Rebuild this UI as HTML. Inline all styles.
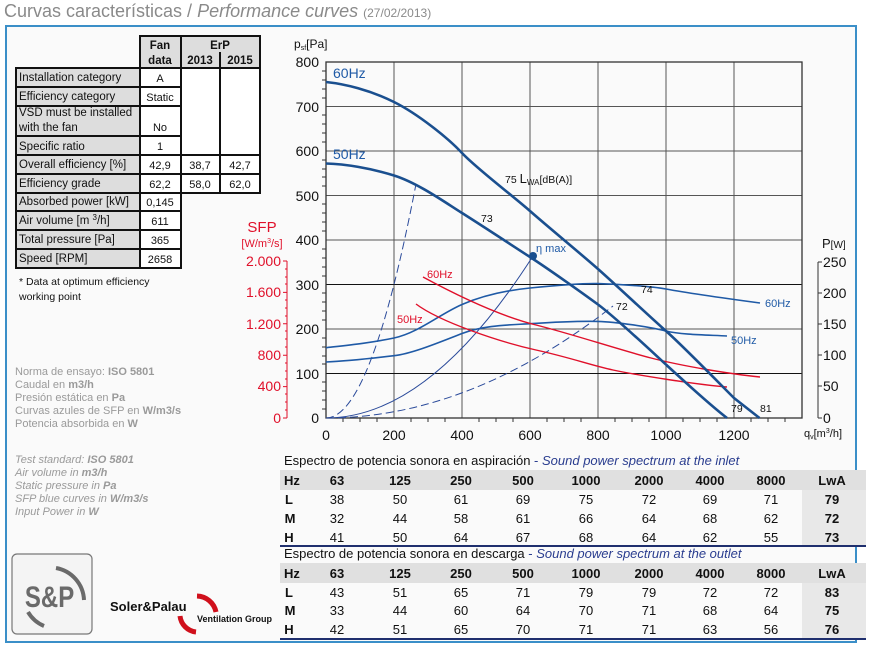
<!DOCTYPE html>
<html><head><meta charset="utf-8"><style>
html,body{margin:0;padding:0;background:#fff;}
svg{display:block;font-family:"Liberation Sans",Arial,sans-serif;}
</style></head><body>
<svg width="876" height="654" viewBox="0 0 876 654" xmlns="http://www.w3.org/2000/svg">
<rect width="876" height="654" fill="#fff"/>
<text x="4" y="17" font-size="18" fill="#8a8a8a">Curvas características / <tspan font-style="italic">Performance curves</tspan> <tspan font-size="12">(27/02/2013)</tspan></text>
<rect x="6" y="26" width="850" height="616" fill="#fafafa" stroke="#3b8fc8" stroke-width="2"/>

<!-- Left table -->
<g stroke="#111" stroke-width="2" font-size="11" fill="#111">
<rect x="140" y="36" width="120" height="32" fill="#ddd"/>
<line x1="181" y1="36" x2="181" y2="193"/><line x1="220" y1="52" x2="220" y2="193"/>
<rect x="16" y="68" width="124" height="200" fill="#ddd"/>
<rect x="140" y="68" width="41" height="200" fill="#fff"/>
<rect x="181" y="68" width="79" height="125" fill="#fff"/>
<line x1="220" y1="68" x2="220" y2="193"/>
<g stroke-width="2">
<line x1="16" y1="87" x2="181" y2="87"/><line x1="16" y1="106" x2="181" y2="106"/>
<line x1="16" y1="136" x2="181" y2="136"/><line x1="16" y1="155" x2="260" y2="155"/>
<line x1="16" y1="174" x2="260" y2="174"/><line x1="16" y1="193" x2="260" y2="193"/><line x1="16" y1="211" x2="181" y2="211"/>
<line x1="16" y1="230" x2="181" y2="230"/><line x1="16" y1="249" x2="181" y2="249"/>
</g>
</g>
<g font-size="11.5" fill="#111">
<text x="160" y="49" text-anchor="middle" font-weight="bold">Fan</text>
<text x="160" y="64" text-anchor="middle" font-weight="bold">data</text>
<text x="220" y="49" text-anchor="middle" font-weight="bold">ErP</text>
<text x="200" y="64" text-anchor="middle" font-weight="bold">2013</text>
<text x="240" y="64" text-anchor="middle" font-weight="bold">2015</text>
<text x="19" y="81">Installation category</text>
<text x="19" y="100">Efficiency category</text>
<text x="19" y="116">VSD must be installed</text>
<text x="19" y="131">with the fan</text>
<text x="19" y="150">Specific ratio</text>
<text x="19" y="168">Overall efficiency [%]</text>
<text x="19" y="187">Efficiency grade</text>
<text x="19" y="205">Absorbed power [kW]</text>
<text x="19" y="224">Air volume [m <tspan font-size="8" dy="-4">3</tspan><tspan dy="4">/h]</tspan></text>
<text x="19" y="243">Total pressure [Pa]</text>
<text x="19" y="262">Speed [RPM]</text>
<g text-anchor="middle" font-size="11">
<text x="160" y="82">A</text><text x="160" y="101">Static</text><text x="160" y="131">No</text>
<text x="160" y="150">1</text><text x="160" y="169">42,9</text><text x="160" y="188">62,2</text>
<text x="160" y="206">0,145</text><text x="160" y="225">611</text><text x="160" y="244">365</text><text x="160" y="263">2658</text>
<text x="200" y="169">38,7</text><text x="240" y="169">42,7</text>
<text x="200" y="188">58,0</text><text x="240" y="188">62,0</text>
</g>
<text x="19" y="285" font-size="10.5">* Data at optimum efficiency</text>
<text x="19" y="300" font-size="10.5">working point</text>
</g>

<!-- notes -->
<g font-size="11" fill="#9a9a9a">
<text x="15" y="375">Norma de ensayo: <tspan font-weight="bold">ISO 5801</tspan></text>
<text x="15" y="388">Caudal en <tspan font-weight="bold">m3/h</tspan></text>
<text x="15" y="401">Presión estática en <tspan font-weight="bold">Pa</tspan></text>
<text x="15" y="414">Curvas azules de SFP en <tspan font-weight="bold">W/m3/s</tspan></text>
<text x="15" y="427">Potencia absorbida en <tspan font-weight="bold">W</tspan></text>
<g font-style="italic">
<text x="15" y="463">Test standard: <tspan font-weight="bold">ISO 5801</tspan></text>
<text x="15" y="476">Air volume in <tspan font-weight="bold">m3/h</tspan></text>
<text x="15" y="489">Static pressure in <tspan font-weight="bold">Pa</tspan></text>
<text x="15" y="502">SFP blue curves in <tspan font-weight="bold">W/m3/s</tspan></text>
<text x="15" y="515">Input Power in <tspan font-weight="bold">W</tspan></text>
</g></g>

<!-- logo -->
<rect x="12" y="554" width="80" height="80" rx="5" fill="#f4f4f4" stroke="#777" stroke-width="1.2"/>
<text x="50" y="607" font-size="30" font-weight="bold" fill="#6a6a6a" text-anchor="middle" transform="scale(0.8,1) translate(12,0)">S&amp;P</text>
<path d="M56 568 A34 34 0 0 1 84 600" fill="none" stroke="#6a6a6a" stroke-width="4"/>
<path d="M28 612 A34 34 0 0 0 44 626" fill="none" stroke="#6a6a6a" stroke-width="4"/>
<text x="110" y="611" font-size="13" font-weight="bold" fill="#111">Soler&amp;Palau</text>
<path d="M197 596 A20 20 0 0 1 216 612" fill="none" stroke="#d0101c" stroke-width="5"/>
<path d="M180 616 A18 18 0 0 0 196 632" fill="none" stroke="#d0101c" stroke-width="5"/>
<text x="197" y="622" font-size="9" font-weight="bold" fill="#111">Ventilation Group</text>

<!-- chart grid -->
<g stroke="#555" stroke-width="1">
<line x1="394" y1="62" x2="394" y2="418"/><line x1="462" y1="62" x2="462" y2="418"/>
<line x1="530" y1="62" x2="530" y2="418"/><line x1="598" y1="62" x2="598" y2="418"/>
<line x1="666" y1="62" x2="666" y2="418"/><line x1="734" y1="62" x2="734" y2="418"/>
<line x1="326" y1="106.5" x2="802" y2="106.5"/><line x1="326" y1="151" x2="802" y2="151"/>
<line x1="326" y1="195.5" x2="802" y2="195.5"/><line x1="326" y1="240" x2="802" y2="240"/>
<line x1="326" y1="284.5" x2="802" y2="284.5" stroke="#111"/><line x1="326" y1="329" x2="802" y2="329"/>
<line x1="326" y1="373.5" x2="802" y2="373.5" stroke="#111"/>
</g>
<rect x="326" y="62" width="476" height="356" fill="none" stroke="#333" stroke-width="1.3"/>
<g stroke="#333" stroke-width="1">
<path d="M322 71h4 M322 80h4 M322 89h4 M322 98h4 M322 115h4 M322 124h4 M322 133h4 M322 142h4 M322 160h4 M322 169h4 M322 177h4 M322 186h4 M322 204h4 M322 213h4 M322 222h4 M322 231h4 M322 249h4 M322 258h4 M322 267h4 M322 276h4 M322 293h4 M322 302h4 M322 311h4 M322 320h4 M322 338h4 M322 347h4 M322 356h4 M322 364h4 M322 382h4 M322 391h4 M322 400h4 M322 409h4"/>
<path d="M343 418v4 M360 418v4 M377 418v4 M411 418v4 M428 418v4 M445 418v4 M479 418v4 M496 418v4 M513 418v4 M547 418v4 M564 418v4 M581 418v4 M615 418v4 M632 418v4 M649 418v4 M683 418v4 M700 418v4 M717 418v4 M751 418v4 M768 418v4 M785 418v4"/>
</g>
<g font-size="14" fill="#111" text-anchor="end">
<text x="319" y="67">800</text><text x="319" y="112">700</text><text x="319" y="156">600</text>
<text x="319" y="201">500</text><text x="319" y="245">400</text><text x="319" y="290">300</text>
<text x="319" y="334">200</text><text x="319" y="379">100</text><text x="319" y="423">0</text>
</g>
<g font-size="14" fill="#111" text-anchor="middle">
<text x="326" y="440">0</text><text x="394" y="440">200</text><text x="462" y="440">400</text>
<text x="530" y="440">600</text><text x="598" y="440">800</text><text x="666" y="440">1000</text><text x="734" y="440">1200</text>
</g>
<text x="294" y="48" font-size="12" fill="#111">p<tspan font-size="7" dy="2">sf</tspan><tspan dy="-2">[Pa]</tspan></text>
<text x="804" y="437" font-size="11" fill="#111">q<tspan font-size="7" dy="2">v</tspan><tspan dy="-2">[m</tspan><tspan font-size="7" dy="-4">3</tspan><tspan dy="4">/h]</tspan></text>

<!-- SFP axis -->
<text x="262" y="232" font-size="15" fill="#e0102a" text-anchor="middle">SFP</text>
<text x="262" y="247" font-size="11" fill="#e0102a" text-anchor="middle">[W/m<tspan font-size="7" dy="-4">3</tspan><tspan dy="4">/s]</tspan></text>
<line x1="287" y1="261" x2="287" y2="418" stroke="#e0102a" stroke-width="1"/>
<g stroke="#e0102a"><path d="M283 261h4 M283 292.4h4 M283 323.8h4 M283 355.2h4 M283 386.6h4 M283 418h4 M285 269h2 M285 277h2 M285 284h2 M285 300h2 M285 308h2 M285 316h2 M285 331h2 M285 339h2 M285 347h2 M285 363h2 M285 371h2 M285 379h2 M285 394h2 M285 402h2 M285 410h2"/></g>
<g font-size="14" fill="#e0102a" text-anchor="end">
<text x="281" y="266">2.000</text><text x="281" y="297">1.600</text><text x="281" y="329">1.200</text>
<text x="281" y="360">800</text><text x="281" y="391">400</text><text x="281" y="423">0</text>
</g>

<!-- P axis -->
<text x="822" y="248" font-size="13" fill="#111">P<tspan font-size="10">[W]</tspan></text>
<line x1="818" y1="262" x2="818" y2="418" stroke="#333"/>
<g stroke="#333"><path d="M818 262h4 M818 293h4 M818 324h4 M818 355h4 M818 386h4 M818 418h4"/></g>
<g font-size="14" fill="#111">
<text x="823" y="267">250</text><text x="823" y="298">200</text><text x="823" y="329">150</text>
<text x="823" y="360">100</text><text x="823" y="391">50</text><text x="823" y="423">0</text>
</g>

<!-- system curves -->
<path d="M326 418 Q429.5 418 533 256" fill="none" stroke="#2a4a9a" stroke-width="1"/>
<path d="M326 418 Q371 418 416 184" fill="none" stroke="#2a4a9a" stroke-width="1" stroke-dasharray="8,4"/>
<path d="M326 418 Q469.5 418 613 306" fill="none" stroke="#2a4a9a" stroke-width="1" stroke-dasharray="8,4"/>

<!-- power curves -->
<path d="M326 347.7 C350 345 370 343 394 338 S440 314 462 304.5 S510 290 530 288 S580 283 598 283.6 S650 286 666 289 S730 299 760 303" fill="none" stroke="#1f5aa6" stroke-width="1.6"/>
<path d="M326 362 C350 361 375 358 394 355.7 S440 342 462 333.5 S510 325 530 323.7 S580 321 598 321.4 S650 327 666 331 S710 335 727 336" fill="none" stroke="#1f5aa6" stroke-width="1.6"/>

<!-- SFP red -->
<path d="M423 277 C460 297 500 316 536 325 S620 350 651 358 S730 374 760 377" fill="none" stroke="#e0102a" stroke-width="1.4"/>
<path d="M416 304 C440 322 500 342 536 350 S590 365 613 370 S700 385 727 387" fill="none" stroke="#e0102a" stroke-width="1.4"/>

<!-- pressure curves -->
<path d="M326 82 C345 84 370 90 394 102 S448 138 462 153 S513 196 530 211 S581 254 598 269 S649 316 666 331 S717 381 734 398 L759.5 418" fill="none" stroke="#1a4f8f" stroke-width="2.6"/>
<path d="M326 163.5 C345 164 370 168 394 175.5 S446 203 462 213 S513 246 530 257 S581 292 598 304.5 S649 349 666 364.6 S710 405 727 418" fill="none" stroke="#1a4f8f" stroke-width="2.6"/>
<circle cx="533" cy="256" r="4" fill="#1a4f8f"/>

<!-- curve labels -->
<g font-size="14" fill="#1f5aa6"><text x="333" y="78">60Hz</text><text x="333" y="159">50Hz</text></g>
<text x="536" y="252" font-size="11" fill="#1f5aa6">η max</text>
<g font-size="11" fill="#1f5aa6"><text x="765" y="307">60Hz</text><text x="731" y="344">50Hz</text></g>
<g font-size="11" fill="#e0102a"><text x="427" y="278">60Hz</text><text x="397" y="323">50Hz</text></g>
<g font-size="10.5" fill="#111">
<text x="505" y="183">75 <tspan font-size="13">L</tspan><tspan font-size="8" dy="2">WA</tspan><tspan dy="-2">[dB(A)]</tspan></text>
<text x="481" y="222">73</text><text x="641" y="293">74</text><text x="616" y="310">72</text>
<text x="731" y="412">79</text><text x="760" y="412">81</text>
</g>

<!-- sound tables -->
<g font-size="13" fill="#111">
<text x="284" y="465">Espectro de potencia sonora en aspiración <tspan fill="#2a3d8f">- </tspan><tspan fill="#2a3d8f" font-style="italic">Sound power spectrum at the inlet</tspan></text>
<rect x="280" y="470" width="586" height="20" fill="#e0e0e0"/>
<rect x="802" y="490" width="64" height="56" fill="#e8e8e8"/>
<line x1="280" y1="546" x2="866" y2="546" stroke="#1f2f6e" stroke-width="2"/>
<text x="284" y="558">Espectro de potencia sonora en descarga <tspan fill="#2a3d8f">- </tspan><tspan fill="#2a3d8f" font-style="italic">Sound power spectrum at the outlet</tspan></text>
<rect x="280" y="563" width="586" height="20" fill="#e0e0e0"/>
<rect x="802" y="583" width="64" height="56" fill="#e8e8e8"/>
<line x1="280" y1="639" x2="866" y2="639" stroke="#1f2f6e" stroke-width="2"/>
</g>
<g font-size="13" fill="#111" text-anchor="middle">
<g font-weight="bold"><text x="292" y="485">Hz</text><text x="337" y="485">63</text><text x="400" y="485">125</text><text x="461" y="485">250</text><text x="523" y="485">500</text><text x="586" y="485">1000</text><text x="649" y="485">2000</text><text x="710" y="485">4000</text><text x="771" y="485">8000</text><text x="832" y="485">LwA</text>
<text x="289" y="504">L</text><text x="290" y="523">M</text><text x="289" y="542">H</text>
<text x="832" y="504">79</text><text x="832" y="523">72</text><text x="832" y="542">73</text></g>
<text x="337" y="504">38</text><text x="400" y="504">50</text><text x="461" y="504">61</text><text x="523" y="504">69</text><text x="586" y="504">75</text><text x="649" y="504">72</text><text x="710" y="504">69</text><text x="771" y="504">71</text>
<text x="337" y="523">32</text><text x="400" y="523">44</text><text x="461" y="523">58</text><text x="523" y="523">61</text><text x="586" y="523">66</text><text x="649" y="523">64</text><text x="710" y="523">68</text><text x="771" y="523">62</text>
<text x="337" y="542">41</text><text x="400" y="542">50</text><text x="461" y="542">64</text><text x="523" y="542">67</text><text x="586" y="542">68</text><text x="649" y="542">64</text><text x="710" y="542">62</text><text x="771" y="542">55</text>
<g font-weight="bold"><text x="292" y="578">Hz</text><text x="337" y="578">63</text><text x="400" y="578">125</text><text x="461" y="578">250</text><text x="523" y="578">500</text><text x="586" y="578">1000</text><text x="649" y="578">2000</text><text x="710" y="578">4000</text><text x="771" y="578">8000</text><text x="832" y="578">LwA</text>
<text x="289" y="597">L</text><text x="290" y="615">M</text><text x="289" y="634">H</text>
<text x="832" y="597">83</text><text x="832" y="615">75</text><text x="832" y="634">76</text></g>
<text x="337" y="597">43</text><text x="400" y="597">51</text><text x="461" y="597">65</text><text x="523" y="597">71</text><text x="586" y="597">79</text><text x="649" y="597">79</text><text x="710" y="597">72</text><text x="771" y="597">72</text>
<text x="337" y="615">33</text><text x="400" y="615">44</text><text x="461" y="615">60</text><text x="523" y="615">64</text><text x="586" y="615">70</text><text x="649" y="615">71</text><text x="710" y="615">68</text><text x="771" y="615">64</text>
<text x="337" y="634">42</text><text x="400" y="634">51</text><text x="461" y="634">65</text><text x="523" y="634">70</text><text x="586" y="634">71</text><text x="649" y="634">71</text><text x="710" y="634">63</text><text x="771" y="634">56</text>
</g>
</svg>
</body></html>
